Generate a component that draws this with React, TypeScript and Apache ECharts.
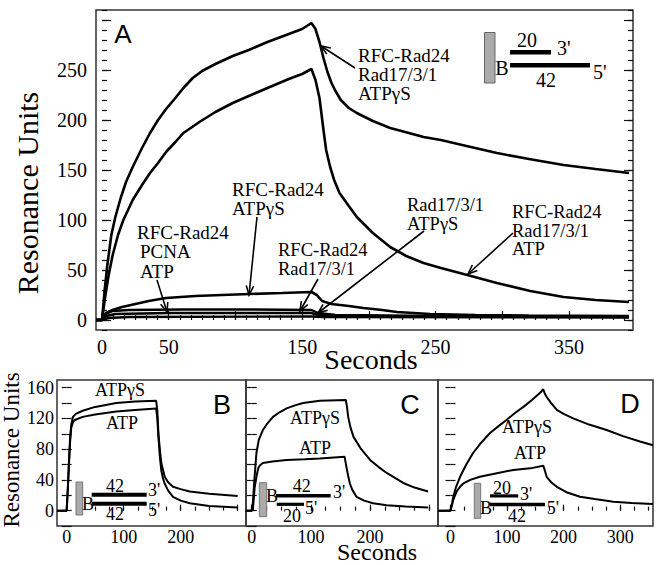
import React, { useEffect, useRef } from 'react';
import * as echarts from 'echarts';

const SERIF = "'Liberation Serif', 'Times New Roman', serif";
const SANS = "'Liberation Sans', Arial, sans-serif";

// ---------- Panel A (seconds, resonance units) ----------
const aSecondsLabels = [0, 50, 150, 250, 350];
const aUnitsLabels = [0, 50, 100, 150, 200, 250];
const aRad24Rad17ATPgS = [[-4.5,0],[0,0],[2,30],[4,55],[7,85],[10,103],[14,122],[18,138],[23,153],[30,172],[36,187],[42,200],[48,211],[55,222],[61,232],[68,242],[75,249],[85,256],[98,264],[110,270],[124,278],[140,286],[150,291],[157,297],[160,291],[163,278],[166,262],[169,248],[172,237],[175,229],[179,220],[185,212],[191,207],[203,199],[216,192],[230,187],[241,183],[254,180],[270,175],[296,167],[320,161],[346,155],[370,151],[395,147]];
const aRad24Rad17ATP = [[-4.5,0],[0,0],[2,20],[5,45],[8,65],[12,85],[16,100],[23,120],[30,135],[36,147],[42,157],[48,168],[55,178],[61,187],[73,198],[85,208],[98,217],[110,224],[124,232],[140,241],[150,246],[157,251],[160,240],[163,222],[166,190],[168,170],[171,153],[174,140],[178,127],[185,114],[191,103],[203,87],[216,73],[228,64],[241,57],[254,52],[271,46],[296,37],[321,29],[346,23],[370,20],[395,18]];
const aRad24ATPgS = [[-4.5,0],[0,0],[3,7],[8,10],[15,13],[25,16],[35,19],[48,22],[70,24],[90,25],[111,26],[135,27],[157,28],[161,25],[165,19],[172,16],[185,14],[196,12],[210,10],[221,8],[246,6],[280,5],[320,4.5],[395,4]];
const aRad24PCNAATP = [[-4.5,0],[0,0],[3,6],[8,9],[20,10],[60,10.5],[110,10.5],[157,10],[162,7],[175,5],[250,4],[395,3]];
const aRad24Rad17 = [[-4.5,0],[0,0],[3,4],[10,6],[50,7],[110,7],[157,7],[162,5],[200,4],[395,3.5]];
const aRad17ATPgS = [[-4.5,0],[0,0],[5,2],[20,3],[157,3.5],[165,3],[395,2.5]];

// ---------- Panels B, C, D ----------
const bcdUnitsLabels = [0, 40, 80, 120, 160];
const bcSecondsLabels = [0, 100, 200];
const dSecondsLabels = [0, 100, 200, 300];

const bATPgS = [[-17,0],[0,0],[2,30],[4,65],[6,95],[8,112],[11,122],[16,126],[28,130],[50,135],[87,140],[120,142],[157,143],[159,130],[161,100],[163.5,79],[166,62],[169,53],[172,44],[178,37],[186.5,31],[200,28],[216,25],[250,22],[300,19]];
const bATP = [[-17,0],[0,0],[2,28],[4,60],[6,90],[8,108],[11,115],[14,118],[28,122],[50,125],[87,129],[120,131],[157,133],[159,120],[161,95],[163.5,70],[166,52],[169,42],[172,35],[178,26],[186.5,18],[200,13],[216,9.5],[250,6],[300,4]];

const cATPgS = [[-10,0],[0,0],[2,10],[5,45],[8,75],[12,92],[19,105],[27,114],[36,122],[47,128],[59,133],[73,137],[87,140],[115,143],[159,144],[161,135],[163,122],[167,108],[172,96],[185,80],[200,66],[214,57],[228,49],[256,36],[275,30],[298,25]];
const cATP = [[-10,0],[0,0],[2,1],[5,30],[8,44],[11,55],[14,59],[19,62],[35,64],[59,66],[90,67],[115,68],[157,70],[160,57],[163,45],[166,35],[170,27],[177,18],[190,13],[205,9.5],[228,7],[260,5.5],[298,4]];

const dATPgS = [[-22,0],[0,0],[3,10],[5,18],[10,31],[17,44],[28,60],[40,75],[55,89],[70,101],[85,110],[99,118],[114,127],[129,135],[144,144],[158,153],[164,158],[167,152],[170,148],[178,140],[188,131],[200,126],[217,120],[245,112],[276,105],[305,97],[335,90],[358,85]];
const dATP = [[-22,0],[0,0],[3,8],[5,14],[11,25],[17,31],[23,35.5],[35,40],[52,44],[82,48.6],[111,53],[141,55],[164,58.5],[167,52],[170,44],[178,37],[188,31],[205,24],[229,18],[255,15],[288,11.6],[320,10],[358,8.6]];

function steps(from: number, to: number, step: number): number[] {
  const out: number[] = [];
  for (let v = from; v <= to + 1e-9; v += step) out.push(Math.round(v * 1000) / 1000);
  return out;
}

const TICK = { color: '#111', width: 1.2 };

function axis(extra: any) {
  return Object.assign(
    {
      type: 'value',
      axisLine: { show: false },
      splitLine: { show: false },
      axisTick: { show: false },
      axisLabel: { show: false },
    },
    extra
  );
}

function tickAxis(base: any, ticks: number[], len: number, labels?: number[], labelFont?: number, margin?: number) {
  const a: any = axis(base);
  a.axisTick = { show: true, inside: true, length: len, customValues: ticks, lineStyle: TICK };
  if (labels) {
    a.axisLabel = {
      show: true,
      customValues: labels,
      fontFamily: SERIF,
      fontSize: labelFont,
      color: '#000',
      margin: margin,
    };
  }
  return a;
}

function txt(x: number, y: number, text: string, size: number, opts: any = {}) {
  const align = opts.align || 'left';
  const valign = opts.valign || 'middle';
  return {
    type: 'text',
    x,
    y,
    rotation: opts.rotation || 0,
    z: 100,
    style: {
      text,
      fill: '#000',
      fontSize: size,
      fontFamily: opts.family || SERIF,
      align,
      verticalAlign: valign,
      textAlign: align,
      textVerticalAlign: valign,
    },
  };
}

// several single-line texts, one per line, centred at y0, y0+gap, ...
function lines(x: number, y0: number, gap: number, texts: string[], size: number) {
  return texts.map((t, i) => txt(x, y0 + i * gap, t, size));
}

function arrow(x1: number, y1: number, x2: number, y2: number, head = 10) {
  const ang = Math.atan2(y2 - y1, x2 - x1);
  const a1 = ang + Math.PI - 0.38;
  const a2 = ang + Math.PI + 0.38;
  return [
    { type: 'line', z: 100, shape: { x1, y1, x2, y2 }, style: { stroke: '#000', lineWidth: 1.6 } },
    {
      type: 'polyline',
      z: 100,
      shape: {
        points: [
          [x2 + head * Math.cos(a1), y2 + head * Math.sin(a1)],
          [x2, y2],
          [x2 + head * Math.cos(a2), y2 + head * Math.sin(a2)],
        ],
      },
      style: { stroke: '#000', lineWidth: 1.6, fill: 'none' },
    },
  ];
}

function rect(x: number, y: number, w: number, h: number, fill: string, stroke?: string) {
  return {
    type: 'rect',
    z: 100,
    shape: { x, y, width: w, height: h },
    style: { fill, stroke: stroke || 'none', lineWidth: 1 },
  };
}

export default function App() {
  const ref = useRef<HTMLDivElement>(null);

  useEffect(() => {
    if (!ref.current) return;
    const chart = echarts.init(ref.current, undefined, { renderer: 'svg' });

    const gridStyle = { show: true, borderColor: '#333', borderWidth: 1.5, backgroundColor: 'transparent' };
    const grids = [
      { left: 96, top: 10, width: 537, height: 320, ...gridStyle },
      { left: 57, top: 380, width: 189, height: 146, ...gridStyle },
      { left: 246, top: 380, width: 192, height: 146, ...gridStyle },
      { left: 438, top: 380, width: 215, height: 146, ...gridStyle },
    ];

    const aX = { gridIndex: 0, min: -4.5, max: 398, position: 'bottom' };
    const aY = { min: -10, max: 310 };
    const bX = { gridIndex: 1, min: -17, max: 314.6, position: 'bottom' };
    const cX = { gridIndex: 2, min: -9.6, max: 314.7, position: 'bottom' };
    const dX = { gridIndex: 3, min: -22, max: 358, position: 'bottom' };
    const bcdY = { min: -20, max: 170 };

    const xAxis = [
      tickAxis(aX, steps(0, 350, 50), 9, aSecondsLabels, 20, 7),
      tickAxis(aX, steps(0, 398, 50 / 6), 5),
      tickAxis(bX, steps(0, 300, 100), 6, bcSecondsLabels, 18, 2),
      tickAxis(bX, steps(0, 300, 25), 4),
      tickAxis(cX, steps(0, 300, 100), 6, bcSecondsLabels, 18, 2),
      tickAxis(cX, steps(0, 300, 25), 4),
      tickAxis(dX, steps(0, 300, 100), 6, dSecondsLabels, 18, 2),
      tickAxis(dX, steps(0, 350, 25), 4),
    ];

    const yAxis = [
      tickAxis({ gridIndex: 0, position: 'left', ...aY }, steps(0, 300, 50), 9, aUnitsLabels, 20, 9),
      tickAxis({ gridIndex: 0, position: 'left', ...aY }, steps(-10, 310, 10), 5),
      tickAxis({ gridIndex: 0, position: 'right', ...aY }, steps(0, 300, 50), 9),
      tickAxis({ gridIndex: 0, position: 'right', ...aY }, steps(-10, 310, 10), 5),
      tickAxis({ gridIndex: 1, position: 'left', ...bcdY }, steps(-20, 160, 20), 5, bcdUnitsLabels, 18, 3),
      tickAxis({ gridIndex: 1, position: 'right', ...bcdY }, steps(-20, 160, 20), 5),
      tickAxis({ gridIndex: 2, position: 'left', ...bcdY }, steps(-20, 160, 20), 5),
      tickAxis({ gridIndex: 2, position: 'right', ...bcdY }, steps(-20, 160, 20), 5),
      tickAxis({ gridIndex: 3, position: 'left', ...bcdY }, steps(-20, 160, 20), 5),
      tickAxis({ gridIndex: 3, position: 'right', ...bcdY }, steps(-20, 160, 20), 5),
    ];

    const line = (name: string, data: number[][], xi: number, yi: number, w: number) => ({
      name,
      type: 'line',
      xAxisIndex: xi,
      yAxisIndex: yi,
      data,
      showSymbol: false,
      symbol: 'none',
      clip: true,
      lineStyle: { color: '#000', width: w },
      z: 5,
    });

    const series = [
      line('RFC-Rad24 Rad17/3/1 ATPγS', aRad24Rad17ATPgS, 0, 0, 2.6),
      line('RFC-Rad24 Rad17/3/1 ATP', aRad24Rad17ATP, 0, 0, 2.6),
      line('RFC-Rad24 ATPγS', aRad24ATPgS, 0, 0, 2.6),
      line('RFC-Rad24 PCNA ATP', aRad24PCNAATP, 0, 0, 2.4),
      line('RFC-Rad24 Rad17/3/1', aRad24Rad17, 0, 0, 2.4),
      line('Rad17/3/1 ATPγS', aRad17ATPgS, 0, 0, 2.4),
      line('B ATPγS', bATPgS, 2, 4, 2),
      line('B ATP', bATP, 2, 4, 2),
      line('C ATPγS', cATPgS, 4, 6, 2),
      line('C ATP', cATP, 4, 6, 2),
      line('D ATPγS', dATPgS, 6, 8, 2),
      line('D ATP', dATP, 6, 8, 2),
    ];

    const graphic: any[] = [
      // axis titles
      txt(27, 193, 'Resonance Units', 30, { align: 'center', rotation: Math.PI / 2 }),
      txt(371, 359, 'Seconds', 28, { align: 'center' }),
      txt(11, 450, 'Resonance Units', 23, { align: 'center', rotation: Math.PI / 2 }),
      txt(377, 552, 'Seconds', 24, { align: 'center' }),
      // panel letters
      txt(123, 34, 'A', 26, { align: 'center', family: SANS }),
      txt(222, 405, 'B', 27, { align: 'center', family: SANS }),
      txt(410, 405, 'C', 27, { align: 'center', family: SANS }),
      txt(630, 404, 'D', 27, { align: 'center', family: SANS }),
      // Panel A annotations
      ...lines(358, 55, 19, ['RFC-Rad24', 'Rad17/3/1', 'ATPγS'], 19),
      ...arrow(355, 68, 321, 46),
      ...lines(232, 189, 19, ['RFC-Rad24', 'ATPγS'], 19),
      ...arrow(257, 217, 249, 295),
      txt(137, 232, 'RFC-Rad24', 19),
      txt(140, 251.5, 'PCNA', 19),
      txt(140, 271, 'ATP', 19),
      ...arrow(157, 280, 167, 312),
      ...lines(278, 250, 18.5, ['RFC-Rad24', 'Rad17/3/1'], 18.5),
      ...arrow(318, 279, 300, 311),
      ...lines(407, 205, 18.5, ['Rad17/3/1', 'ATPγS'], 18.5),
      ...arrow(424, 231, 318, 313),
      ...lines(512, 212, 18.5, ['RFC-Rad24', 'Rad17/3/1', 'ATP'], 18.5),
      ...arrow(513, 233, 468, 274),
      // Panel A inset
      rect(484.5, 32.5, 10.5, 50.5, '#aaa', '#666'),
      txt(502, 68, 'B', 20, { align: 'center' }),
      rect(510, 50, 41, 4.5, '#000'),
      rect(510, 63, 80, 4.5, '#000'),
      txt(527, 40, '20', 20, { align: 'center' }),
      txt(557, 48, "3'", 20),
      txt(546, 80, '42', 20, { align: 'center' }),
      txt(593, 72, "5'", 20),
      // Panel B labels & inset
      txt(120, 390, 'ATPγS', 18, { align: 'center' }),
      txt(122, 423, 'ATP', 18, { align: 'center' }),
      rect(76, 482, 6.7, 33, '#aaa', '#777'),
      txt(88, 504, 'B', 18, { align: 'center' }),
      rect(91.7, 492.7, 55, 4, '#000'),
      rect(91.7, 501.7, 55, 4, '#000'),
      txt(115, 486, '42', 18, { align: 'center' }),
      txt(115, 514, '42', 18, { align: 'center' }),
      txt(148, 490, "3'", 18),
      txt(148, 510, "5'", 18),
      // Panel C labels & inset
      txt(315, 418, 'ATPγS', 18, { align: 'center' }),
      txt(315, 448, 'ATP', 18, { align: 'center' }),
      rect(259.3, 482.7, 7.4, 34, '#aaa', '#777'),
      txt(272, 496, 'B', 18, { align: 'center' }),
      rect(276, 494, 54.7, 3.5, '#000'),
      rect(276.7, 502.7, 27.3, 3.2, '#000'),
      txt(301.7, 486, '42', 18, { align: 'center' }),
      txt(333, 492, "3'", 18),
      txt(305, 507.5, "5'", 18),
      txt(292, 516, '20', 18, { align: 'center' }),
      // Panel D labels & inset
      txt(527, 427, 'ATPγS', 18, { align: 'center' }),
      txt(530, 453, 'ATP', 18, { align: 'center' }),
      rect(474.3, 483.3, 6.4, 35, '#aaa', '#777'),
      txt(486, 507.5, 'B', 18, { align: 'center' }),
      rect(490, 494.3, 28.3, 3.2, '#000'),
      rect(490, 502.7, 55, 3.5, '#000'),
      txt(502, 487.5, '20', 18, { align: 'center' }),
      txt(520, 494, "3'", 18),
      txt(546.7, 507.5, "5'", 18),
      txt(517, 516, '42', 18, { align: 'center' }),
    ];

    chart.setOption({
      animation: false,
      backgroundColor: '#fff',
      grid: grids,
      xAxis,
      yAxis,
      series,
      graphic,
    });

    return () => chart.dispose();
  }, []);

  return (
    <div
      ref={ref}
      style={{ position: 'fixed', left: 0, top: 0, width: 660, height: 565, background: '#fff' }}
    />
  );
}
